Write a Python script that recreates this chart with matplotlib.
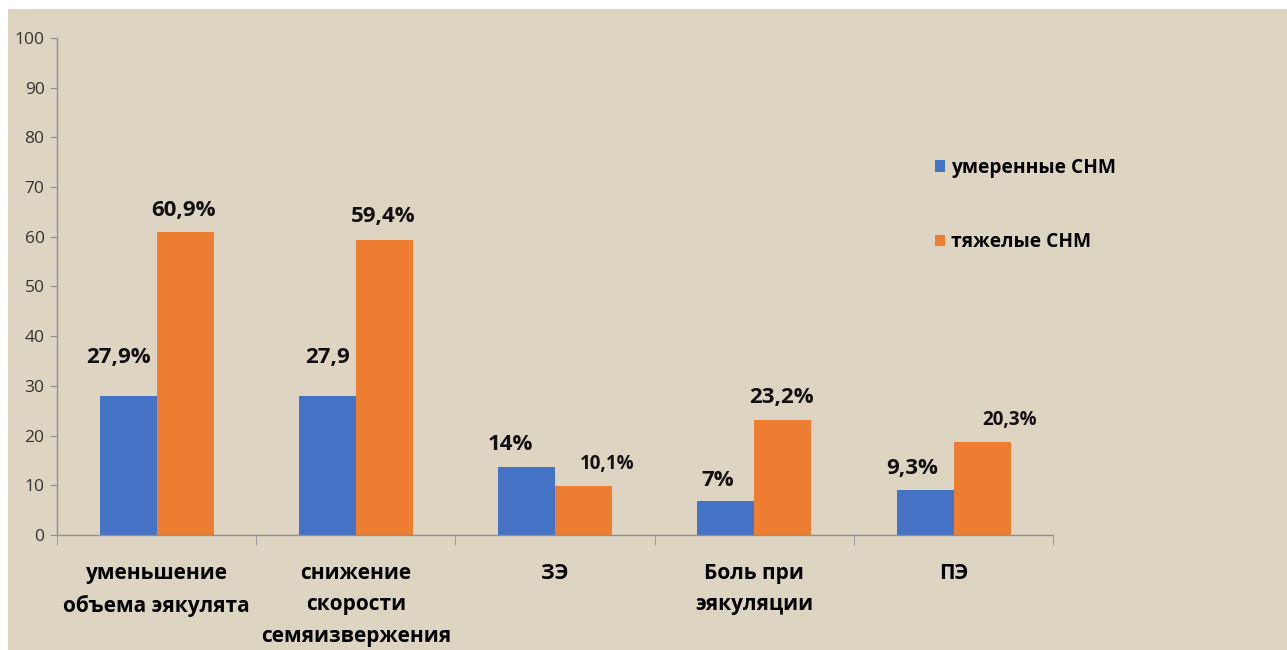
import numpy as np
import matplotlib
matplotlib.use('Agg')
import matplotlib.pyplot as plt
from matplotlib.patches import Rectangle

plt.rcParams['font.family'] = ['Open Sans', 'DejaVu Sans']

# данные
categories = ['уменьшение\nобъема эякулята', 'снижение\nскорости\nсемяизвержения',
              'ЗЭ', 'Боль при\nэякуляции', 'ПЭ']
moderate = [27.9, 27.9, 13.7, 6.8, 9.1]
severe = [60.9, 59.4, 9.9, 23.1, 18.7]
moderate_labels = ['27,9%', '27,9', '14%', '7%', '9,3%']
severe_labels = ['60,9%', '59,4%', '10,1%', '23,2%', '20,3%']
series_names = ['умеренные СНМ', 'тяжелые СНМ']

blue = '#4472C4'
orange = '#ED7D31'
bg = '#DDD4C2'

fig = plt.figure(figsize=(12.87, 6.5), dpi=100, facecolor='white')
fig.patches.append(Rectangle((0.006, 0), 0.994, 0.986, transform=fig.transFigure,
                             facecolor=bg, edgecolor='none', zorder=-10))
ax = fig.add_axes([0.0443, 0.177, 0.7740, 0.7645])
ax.set_facecolor('none')

x = np.arange(len(categories))
w = 0.286
b1 = ax.bar(x - w / 2, moderate, w, color=blue, label=series_names[0])
b2 = ax.bar(x + w / 2, severe, w, color=orange, label=series_names[1])

# подписи (сдвиги в точках, как в оригинале)
off_m = [(-7, 28), (0, 28), (-12, 16), (-6, 15), (-9, 15)]
off_s = [(-1, 16), (-1, 17), (17, 16), (-1, 16), (20, 16)]
size_m = [16, 16, 16, 16, 16]
size_s = [16, 16, 13.5, 16, 13.5]
for i in range(len(categories)):
    ax.annotate(moderate_labels[i], (x[i] - w / 2, moderate[i]), xytext=off_m[i],
                textcoords='offset points', ha='center', va='center',
                fontsize=size_m[i], fontweight='bold', color='#111111')
    ax.annotate(severe_labels[i], (x[i] + w / 2, severe[i]), xytext=off_s[i],
                textcoords='offset points', ha='center', va='center',
                fontsize=size_s[i], fontweight='bold', color='#111111')

ax.set_xlim(-0.5, 4.5)
ax.set_ylim(0, 100)
ax.set_yticks(np.arange(0, 101, 10))
ax.tick_params(axis='y', labelsize=12.5, length=5, color='#909090', labelcolor='#333333', pad=4)
ax.set_xticks(x)
ax.set_xticklabels(categories, fontsize=15, fontweight='bold', linespacing=1.66, va='top')
ax.tick_params(axis='x', length=0, pad=20)
ax.set_xticks(np.arange(-0.5, 5, 1), minor=True)
ax.tick_params(axis='x', which='minor', length=7, color='#909090')

for s in ['top', 'right']:
    ax.spines[s].set_visible(False)
for s in ['left', 'bottom']:
    ax.spines[s].set_color('#909090')
    ax.spines[s].set_linewidth(1)

# легенда
leg = fig.legend(handles=[b1, b2], labels=series_names, loc='upper left',
                 bbox_to_anchor=(0.713, 0.784), frameon=False,
                 prop={'weight': 'bold', 'size': 13.8}, handlelength=0.55,
                 handleheight=0.55, handletextpad=0.3, labelspacing=2.85)

fig.savefig('out.png', dpi=100, facecolor='white')
